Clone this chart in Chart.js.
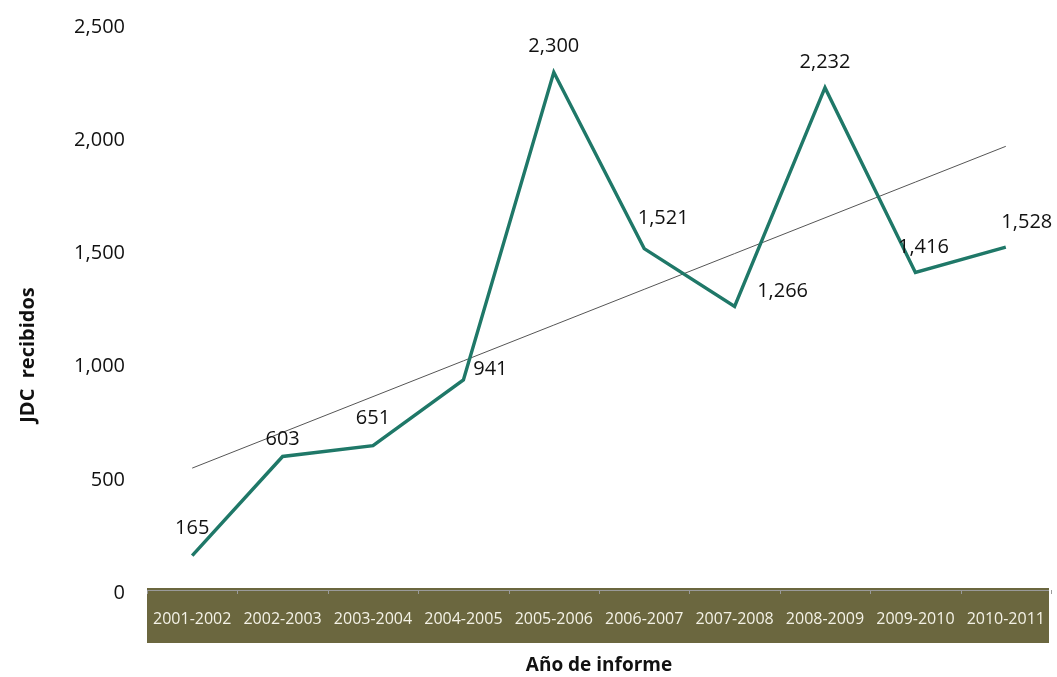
<!DOCTYPE html>
<html>
<head>
<meta charset="utf-8">
<script src="https://cdn.jsdelivr.net/npm/chart.js@4"></script>
<style>
  html, body { margin: 0; padding: 0; background: #fff; }
  #wrap { width: 1057px; height: 677px; }
</style>
</head>
<body>
<div id="wrap"><canvas id="chart"></canvas></div>
<script>
// data
const years = ['2001-2002', '2002-2003', '2003-2004', '2004-2005', '2005-2006',
  '2006-2007', '2007-2008', '2008-2009', '2009-2010', '2010-2011'];
const received = [165, 603, 651, 941, 2300, 1521, 1266, 2232, 1416, 1528];
const yTicks = [0, 500, 1000, 1500, 2000, 2500];

// where each value label sits relative to its point (dx, dy)
const labelShift = [[0, -27], [0, -17], [0, -27], [27, -11], [0, -26],
  [19, -30], [48, -15], [0, -25], [8, -25], [21, -25]];

// linear trend line (least squares over the series)
const n = received.length;
const mx = (n - 1) / 2;
const my = received.reduce((a, b) => a + b, 0) / n;
let sxy = 0, sxx = 0;
received.forEach((v, i) => { sxy += (i - mx) * (v - my); sxx += (i - mx) * (i - mx); });
const slope = sxy / sxx;
const trend = received.map((v, i) => my + slope * (i - mx));

const fmt = v => Number(v).toLocaleString('en-US');
const FONT = "'Open Sans', 'Liberation Sans', sans-serif";

// olive band behind the category labels
const bandPlugin = {
  id: 'band',
  beforeDraw(chart) {
    const { ctx, chartArea } = chart;
    const left = chartArea.left, right = chartArea.right - 2;
    const step = (chartArea.right - chartArea.left) / years.length;
    ctx.save();
    ctx.fillStyle = '#6b673f';
    ctx.fillRect(left, chartArea.bottom - 5, right - left, 55);
    ctx.strokeStyle = '#9a9a9a';
    ctx.lineWidth = 1;
    ctx.beginPath();
    ctx.moveTo(left, chartArea.bottom - 2.5);
    ctx.lineTo(right, chartArea.bottom - 2.5);
    for (let i = 0; i <= years.length; i++) {
      const px = Math.round(left + i * step) + 0.5;
      ctx.moveTo(px, chartArea.bottom - 3);
      ctx.lineTo(px, chartArea.bottom + 1);
    }
    ctx.stroke();
    ctx.restore();
  },
  // y axis title, sits a bit lower than the plot centre in the original
  afterDraw(chart) {
    const { ctx, chartArea } = chart;
    ctx.save();
    ctx.translate(28, chartArea.bottom - 238);
    ctx.rotate(-Math.PI / 2);
    ctx.font = 'bold 20px ' + FONT;
    ctx.fillStyle = '#111';
    ctx.textAlign = 'center';
    ctx.textBaseline = 'middle';
    ctx.fillText('JDC  recibidos', 0, 0);
    ctx.restore();
  }
};

const labelPlugin = {
  id: 'valueLabels',
  afterDatasetsDraw(chart) {
    const { ctx } = chart;
    const meta = chart.getDatasetMeta(0);
    ctx.save();
    ctx.font = '20px ' + FONT;
    ctx.fillStyle = '#111';
    ctx.textAlign = 'center';
    ctx.textBaseline = 'middle';
    meta.data.forEach((pt, i) => {
      const [dx, dy] = labelShift[i];
      ctx.fillText(fmt(received[i]), pt.x + dx, pt.y + dy);
    });
    ctx.restore();
  }
};

new Chart(document.getElementById('chart'), {
  type: 'line',
  data: {
    labels: years,
    datasets: [
      {
        label: 'JDC recibidos',
        data: received,
        borderColor: '#1f7868',
        borderWidth: 3.4,
        pointRadius: 0,
        tension: 0,
        order: 1
      },
      {
        label: 'Tendencia',
        data: trend,
        borderColor: '#555555',
        borderWidth: 1,
        pointRadius: 0,
        tension: 0,
        order: 2
      }
    ]
  },
  options: {
    responsive: true,
    maintainAspectRatio: false,
    animation: false,
    layout: { padding: { top: 27, right: 6, left: 0, bottom: 0 } },
    plugins: {
      legend: { display: false },
      tooltip: { enabled: false },
      title: { display: false }
    },
    scales: {
      x: {
        offset: true,
        grid: { display: false, drawTicks: false, offset: true },
        border: { display: false },
        ticks: {
          color: '#f4f2e6',
          font: { family: FONT, size: 16 },
          padding: 17,
          maxRotation: 0,
          autoSkip: false
        },
        title: {
          display: true,
          text: 'Año de informe',
          color: '#111',
          font: { family: FONT, size: 19, weight: 'bold' },
          padding: { top: 12, bottom: 0 }
        },
        afterFit(s) { s.height = 84; s.paddingLeft = 0; s.paddingRight = 0; }
      },
      y: {
        min: 0,
        max: 2500,
        afterBuildTicks(s) { s.ticks = yTicks.map(v => ({ value: v })); },
        grid: { display: false, drawTicks: false },
        border: { display: false },
        ticks: {
          color: '#111',
          font: { family: FONT, size: 20 },
          padding: 22,
          callback: v => fmt(v)
        },
        title: { display: false },
        afterFit(s) { s.width = 147; s.paddingTop = 0; s.paddingBottom = 0; }
      }
    }
  },
  plugins: [bandPlugin, labelPlugin]
});
</script>
</body>
</html>
